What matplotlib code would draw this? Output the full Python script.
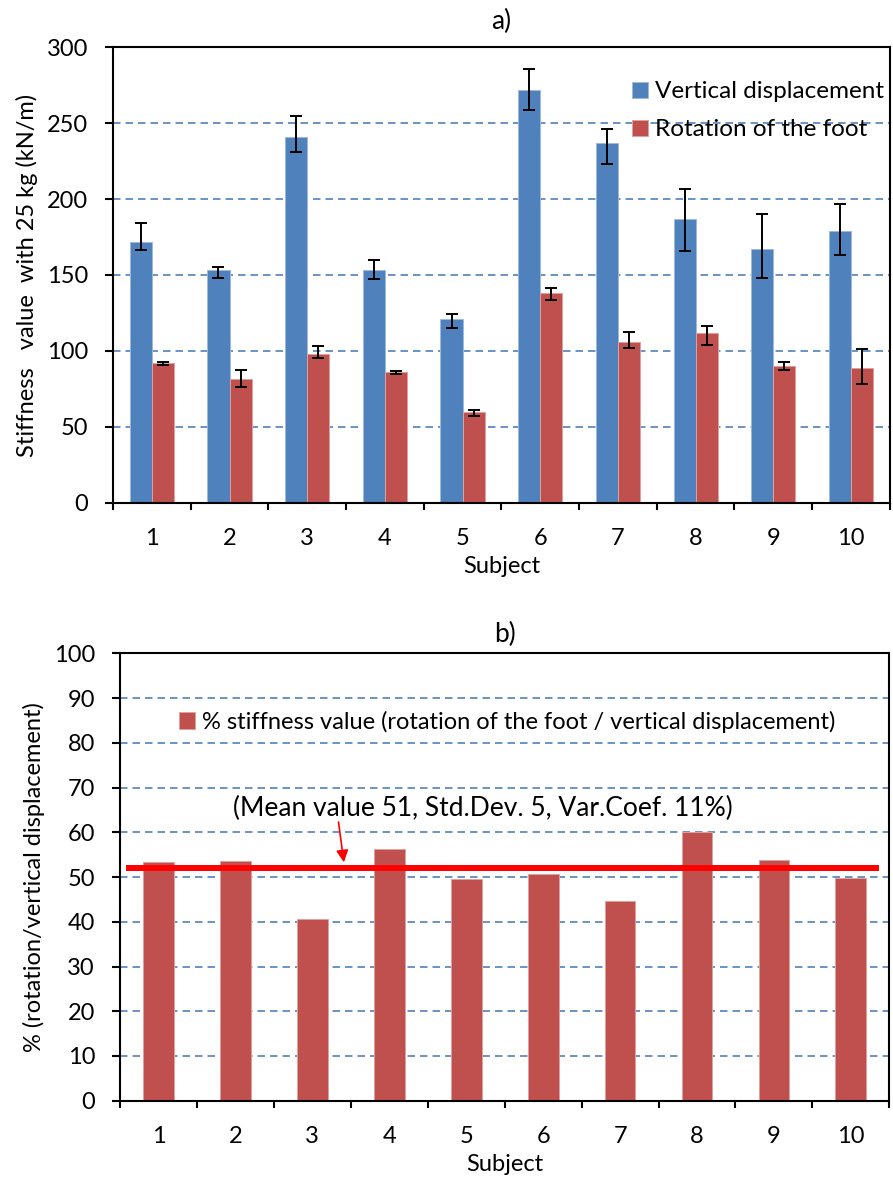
import matplotlib
matplotlib.use("Agg")
import matplotlib.pyplot as plt
import numpy as np

subjects = ["1", "2", "3", "4", "5", "6", "7", "8", "9", "10"]

# a) stiffness with 25 kg (kN/m), bar value and whisker ends
vertical = [172, 153, 241, 153, 121, 272, 237, 187, 167, 179]
vertical_hi = [184, 155, 254.6, 160, 124, 285.4, 246.3, 206.5, 190, 196.8]
vertical_lo = [166.7, 148, 231.3, 147.5, 114.8, 258.8, 223, 165.8, 148, 163]
rotation = [92, 81.6, 97.9, 85.8, 59.6, 138, 105.8, 111.7, 89.7, 88.6]
rotation_hi = [92.8, 87.3, 102.9, 86.9, 61.3, 141.4, 112.4, 116.1, 92.8, 100.9]
rotation_lo = [90.4, 76.3, 95.2, 84.7, 57.2, 133.3, 102.2, 103.6, 87.5, 78.3]

# b) ratio rotation / vertical (%)
ratio = [53.4, 53.6, 40.6, 56.2, 49.6, 50.7, 44.7, 60.0, 53.8, 49.8]
ratio_mean_line = 52.1
mean_text = "(Mean value 51, Std.Dev. 5, Var.Coef. 11%)"

BLUE = "#4F81BD"
RED = "#C0504D"
FS = 17

plt.rcParams["font.family"] = ["Lato", "DejaVu Sans"]
plt.rcParams["font.size"] = FS


def style_axes(ax, n, ymax, ystep):
    ax.set_xlim(0, n)
    ax.set_ylim(0, ymax)
    ax.set_yticks(np.arange(0, ymax + 1, ystep))
    ax.set_xticks(np.arange(0, n + 1))
    ax.set_xticklabels([])
    ax.set_xticks(np.arange(n) + 0.5, minor=True)
    ax.set_xticklabels(subjects, minor=True)
    ax.tick_params(axis="x", which="major", direction="out", length=5, width=1.5)
    ax.tick_params(axis="x", which="minor", length=0, pad=18)
    ax.tick_params(axis="y", direction="out", length=6, width=1.5, pad=12)
    for s in ax.spines.values():
        s.set_linewidth(1.5)
        s.set_color("black")
    ax.set_axisbelow(True)
    ax.yaxis.grid(True, color=BLUE, linewidth=1.2, linestyle=(0, (4.5, 3)))


fig = plt.figure(figsize=(8.93, 11.8), dpi=100)

# ---- a) ----
ax1 = fig.add_axes([0.1265, 0.574, 0.870, 0.386])
x = np.arange(len(subjects)) + 0.5
w = 0.285
v = np.array(vertical)
r = np.array(rotation)
v_err = [v - np.array(vertical_lo), np.array(vertical_hi) - v]
r_err = [r - np.array(rotation_lo), np.array(rotation_hi) - r]
ekw = dict(ecolor="black", elinewidth=1.4, capsize=4.5, capthick=1.4)
ax1.bar(x - w / 2, v, w, color=BLUE, edgecolor="#9DB9DD", linewidth=0.7,
        yerr=v_err, error_kw=ekw, label="Vertical displacement")
ax1.bar(x + w / 2, r, w, color=RED, edgecolor="#E0A09E", linewidth=0.7,
        yerr=r_err, error_kw=ekw, label="Rotation of the foot")
style_axes(ax1, len(subjects), 300, 50)
ax1.set_title("a)", fontsize=FS + 2, pad=13)
ax1.set_xlabel("Subject", labelpad=5)
ax1.set_ylabel("Stiffness   value  with 25 kg (kN/m)", labelpad=6)
ax1.legend(loc="upper left", bbox_to_anchor=(0.668, 0.925), frameon=False,
           borderaxespad=0, borderpad=0, handlelength=0.65, handleheight=0.65,
           handletextpad=0.3, labelspacing=0.7, fontsize=FS + 0.5)

# ---- b) ----
ax2 = fig.add_axes([0.1344, 0.0672, 0.8615, 0.379])
ax2.bar(x, ratio, 0.4, color=RED, edgecolor="#E0A09E", linewidth=0.7,
        label="% stiffness value (rotation of the foot / vertical displacement)")
style_axes(ax2, len(subjects), 100, 10)
ax2.axhline(ratio_mean_line, xmin=0.0117, xmax=0.983, color="#FF0000",
            linewidth=4.3, zorder=3)
ax2.annotate("", xy=(2.91, 53.3), xytext=(2.84, 62.3),
             arrowprops=dict(arrowstyle="-|>", color="#FF0000", lw=1.2,
                             mutation_scale=18, shrinkA=0, shrinkB=0))
ax2.text(4.72, 65.4, mean_text, ha="center", va="center", fontsize=FS + 2)
ax2.set_title("b)", fontsize=FS + 2, pad=8)
ax2.set_xlabel("Subject", labelpad=5)
ax2.set_ylabel("% (rotation/vertical displacement)", labelpad=6)
ax2.legend(loc="upper left", bbox_to_anchor=(0.0763, 0.872), frameon=False,
           borderaxespad=0, borderpad=0, handlelength=0.7, handleheight=0.7,
           handletextpad=0.3, fontsize=FS)

fig.savefig("out.png", dpi=100)
